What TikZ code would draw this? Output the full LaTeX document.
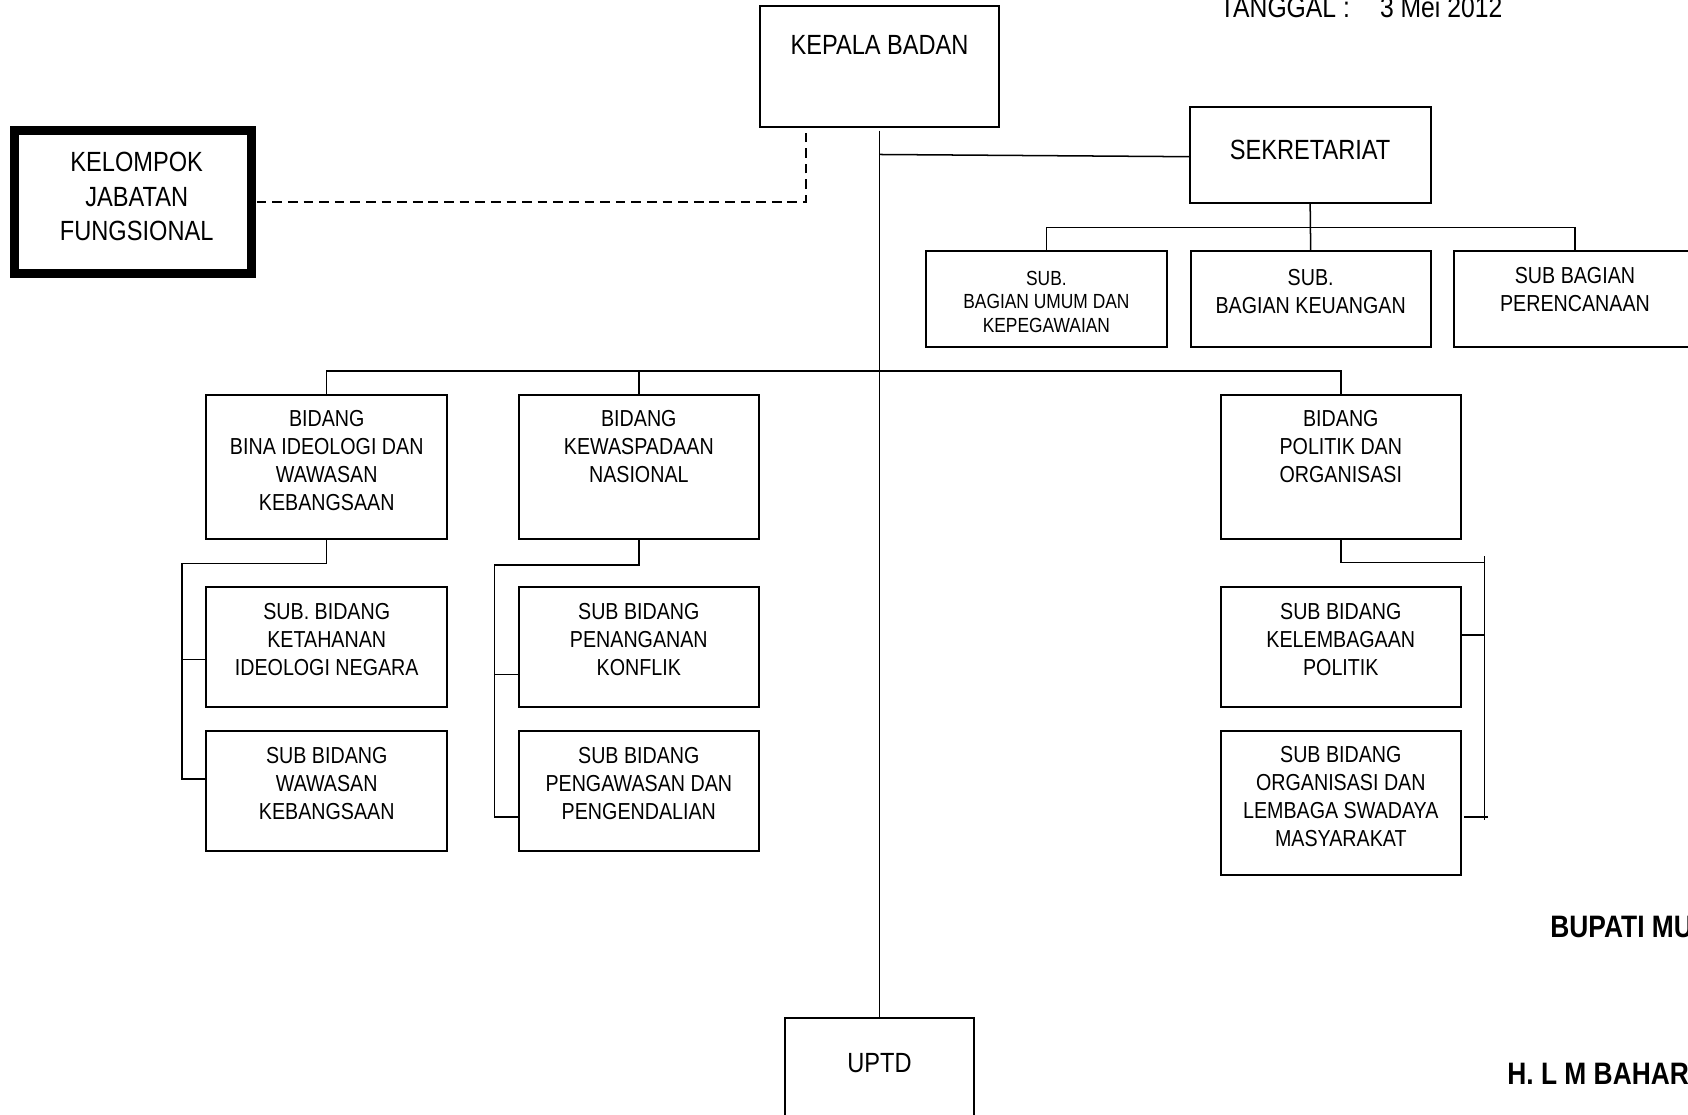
\documentclass[tikz,border=0pt]{standalone}
\usepackage{fontspec}
\setmainfont{Liberation Sans}[FakeStretch=0.85]
\newcommand\FtBig{\fontsize{25.8}{32}\selectfont}
\newcommand\FtMed{\fontsize{21.5}{26}\selectfont}
\newcommand\FtSml{\fontsize{19}{22}\selectfont}
\newcommand\FtBold{\fontsize{28.8}{34}\selectfont\bfseries}
\newcommand\FtDate{\fontsize{27}{32}\selectfont}
\begin{document}
\begin{tikzpicture}[x=1pt,y=-1pt,
  box/.style={draw, line width=1.9pt, inner sep=0pt, outer sep=0pt},
  conn/.style={line width=1.4pt},
  dconn/.style={line width=1.4pt, dash pattern=on 9pt off 5.5pt},
  tbig/.style={align=center, inner sep=0pt, anchor=north, font=\FtBig},
  tmed/.style={align=center, inner sep=0pt, anchor=north, font=\FtMed},
  tsml/.style={align=center, inner sep=0pt, anchor=north, font=\FtSml},
  tbold/.style={inner sep=0pt, anchor=base west, font=\FtBold}]
\useasboundingbox (0,0) rectangle (1568,1035);
\clip (0,0) rectangle (1568,1035);

% top
\node[box, minimum width=222pt, minimum height=112pt] (kepala) at (817,62) {};
\node[tbig] (kepalaT) at (817,32.5) {KEPALA BADAN};
\node[inner sep=0pt, anchor=base west, font=\FtDate] (tgl) at (1133,16) {TANGGAL :\hspace{28pt}3 Mei 2012};

\node[box, minimum width=224pt, minimum height=89pt] (sek) at (1217,143.85) {};
\node[tbig] (sekT) at (1217,130) {SEKRETARIAT};

\node[box, minimum width=224pt, minimum height=89pt] (sub1) at (972,277.5) {};
\node[box, minimum width=223pt, minimum height=89pt] (sub2) at (1217.5,277.5) {};
\node[box, minimum width=224pt, minimum height=89pt] (sub3) at (1463,277.5) {};
\node[tsml] (sub1T) at (972,251.5) {SUB.\\BAGIAN UMUM DAN\\KEPEGAWAIAN};
\node[tmed] (sub2T) at (1217.5,249.8) {SUB.\\BAGIAN KEUANGAN};
\node[tmed] (sub3T) at (1463,248.5) {SUB BAGIAN\\PERENCANAAN};

% kelompok
\node[box, line width=8.4pt, minimum width=220.5pt, minimum height=133pt] (kjf) at (123.75,187.5) {};
\node[tbig] (kjfT) at (127,141.5) {KELOMPOK\\JABATAN\\FUNGSIONAL};

% bidang
\node[box, minimum width=223.5pt, minimum height=133.7pt] (bidA) at (303.5,433.9) {};
\node[box, minimum width=222.8pt, minimum height=133.7pt] (bidB) at (593.4,433.9) {};
\node[box, minimum width=223pt, minimum height=133.7pt] (bidC) at (1245.5,433.9) {};
\node[tmed] (bidAT) at (303.5,381) {BIDANG\\BINA IDEOLOGI DAN\\WAWASAN\\KEBANGSAAN};
\node[tmed] (bidBT) at (593.4,381) {BIDANG\\KEWASPADAAN\\NASIONAL};
\node[tmed] (bidCT) at (1245.5,381) {BIDANG\\POLITIK DAN\\ORGANISASI};

% sub bidang
\node[box, minimum width=223.5pt, minimum height=111pt] (sA1) at (303.5,601) {};
\node[box, minimum width=223.5pt, minimum height=111.5pt] (sA2) at (303.5,734.8) {};
\node[box, minimum width=222.8pt, minimum height=111pt] (sB1) at (593.4,601) {};
\node[box, minimum width=222.8pt, minimum height=111.5pt] (sB2) at (593.4,734.8) {};
\node[box, minimum width=223pt, minimum height=111pt] (sC1) at (1245.5,601) {};
\node[box, minimum width=223pt, minimum height=133.8pt] (sC2) at (1245.5,745.9) {};
\node[tmed] (sA1T) at (303.5,560.3) {SUB. BIDANG\\KETAHANAN\\IDEOLOGI NEGARA};
\node[tmed] (sA2T) at (303.5,694) {SUB BIDANG\\WAWASAN\\KEBANGSAAN};
\node[tmed] (sB1T) at (593.4,560.3) {SUB BIDANG\\PENANGANAN\\KONFLIK};
\node[tmed] (sB2T) at (593.4,694) {SUB BIDANG\\PENGAWASAN DAN\\PENGENDALIAN};
\node[tmed] (sC1T) at (1245.5,560.3) {SUB BIDANG\\KELEMBAGAAN\\POLITIK};
\node[tmed] (sC2T) at (1245.5,693.2) {SUB BIDANG\\ORGANISASI DAN\\LEMBAGA SWADAYA\\MASYARAKAT};

% uptd
\node[box, minimum width=176pt, minimum height=114pt] (uptd) at (817,1003) {};
\node[tbig] (uptdT) at (817,978.5) {UPTD};

% signature
\node[tbold] (bup) at (1440,871) {BUPATI MU};
\node[tbold] (hlm) at (1400,1007) {H. L M BAHAR};

% connectors
\draw[conn] ([yshift=-3.4pt]kepala.south) -- (uptd.north);
\coordinate (j1) at (817,143.5);
\draw[conn] (j1) -- ([yshift=-1.7pt]sek.west);
\draw[conn] (sek.south) -- (sub2.north);
\coordinate (sbar) at (0,211.2);
\draw[conn] (sub1.north) -- (sub1.north |- sbar) -- (sub3.north |- sbar) -- (sub3.north);

\coordinate (bbar) at (0,344.7);
\draw[conn] (bidA.north) -- (bidA.north |- bbar) -- (bidC.north |- bbar) -- (bidC.north);
\draw[conn] (bidB.north |- bbar) -- (bidB.north);

\coordinate (lA) at (169,523.3);
\coordinate (a1) at ([yshift=-11.5pt]sA1.west);
\coordinate (a2) at ([yshift=11.1pt]sA2.west);
\draw[conn] (bidA.south) -- (bidA.south |- lA) -- (lA) -- (lA |- a2) -- (a2);
\draw[conn] (lA |- a1) -- (a1);

\coordinate (lB) at (459.3,524.6);
\coordinate (b1) at ([yshift=-25.4pt]sB1.west);
\coordinate (b2) at ([yshift=-23.9pt]sB2.west);
\draw[conn] (bidB.south) -- (bidB.south |- lB) -- (lB) -- (lB |- b2) -- (b2);
\draw[conn] (lB |- b1) -- (b1);

\coordinate (rC) at (1379,522.7);
\coordinate (rTop) at (1379,516.5);
\coordinate (rBot) at (1379,761.8);
\draw[conn] (bidC.south) -- (bidC.south |- rC) -- (rC);
\draw[conn] (rTop) -- (rBot);
\coordinate (c1) at ([yshift=11pt]sC1.east);
\coordinate (c2) at ([yshift=-12.8pt,xshift=3pt]sC2.east);
\draw[conn] (c1) -- (rTop |- c1);
\draw[conn] (c2) -- ([xshift=3.6pt]rTop |- c2);

\coordinate (dc) at (748.6,187.5);
\coordinate (dt) at (748.6,121);
\draw[dconn] ([xshift=4.5pt]kjf.east) -- (dc) -- (dt);
\end{tikzpicture}
\end{document}
